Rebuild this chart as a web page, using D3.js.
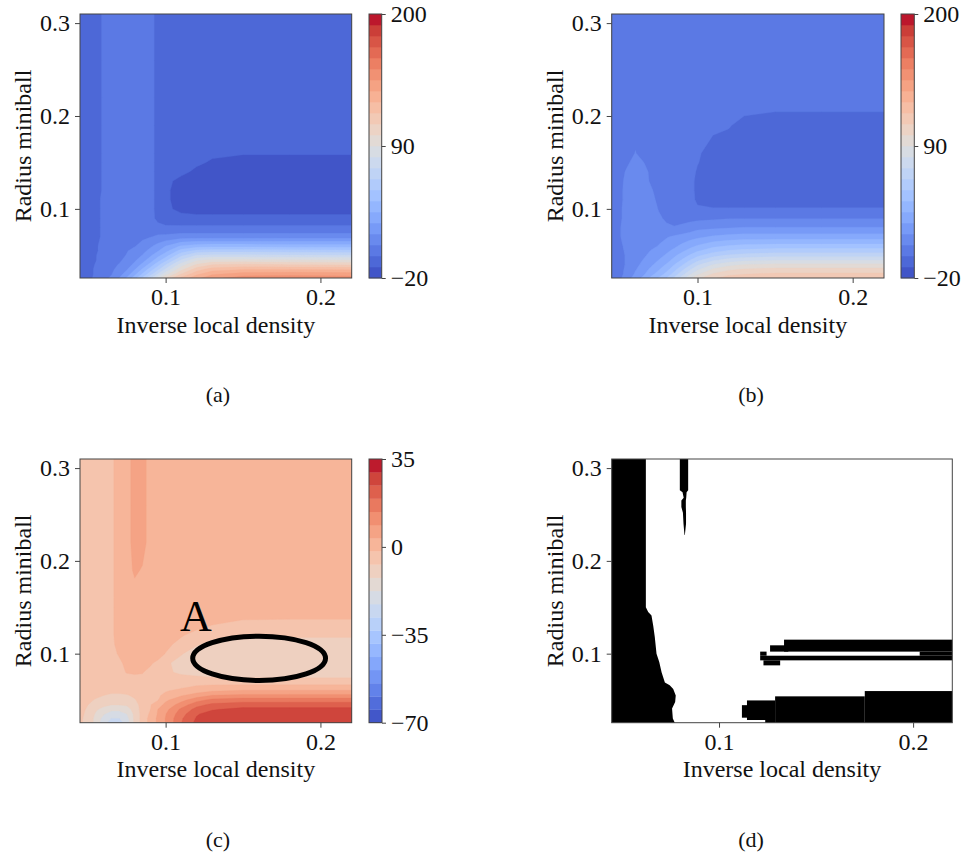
<!DOCTYPE html>
<html>
<head>
<meta charset="utf-8">
<script src="https://cdn.jsdelivr.net/npm/d3@7"></script>
<style>
body { margin: 0; background: #fff; }
svg, svg text { font-family: "Liberation Serif", "DejaVu Serif", serif !important; }
</style>
</head>
<body>
<div id="main"></div>
<script>
// ---- data ----
var xGrid = [0.0447, 0.05, 0.055, 0.06, 0.065, 0.07, 0.075, 0.08, 0.085, 0.09, 0.095, 0.10, 0.11, 0.12, 0.13, 0.15, 0.18, 0.2202];
var yGrid = [0.3098, 0.26, 0.22, 0.19, 0.16, 0.15, 0.14, 0.13, 0.12, 0.11, 0.10, 0.09, 0.08, 0.07, 0.06, 0.055, 0.05, 0.045, 0.04, 0.035, 0.03, 0.0256];
var xDomain = [0.0447, 0.2202];
var yDomain = [0.0256, 0.3098];
var xTicks = [0.1, 0.2];
var yTicks = [0.1, 0.2, 0.3];

// (a) rows from top (y = 0.31) to bottom (y = 0.026)
var fieldA = [
  [-6,-6,-6,0,3,3,3,3,3,3,-6,-6,-6,-6,-6,-6,-6,-6],
  [-6,-6,-6,0,3,3,3,3,3,3,-6,-6,-6,-6,-6,-6,-6,-6],
  [-6,-6,-6,0,3,3,3,3,3,3,-6,-6,-6,-6,-6,-6,-6,-6],
  [-6,-6,-6,0,3,3,3,3,3,3,-6,-6,-6,-6,-6,-6,-6,-6],
  [-6,-6,-6,0,3,3,3,3,3,3,-6,-6,-6,-7,-9,-10,-10,-10],
  [-6,-6,-6,0,3,3,3,3,3,3,-6,-6,-6,-9,-12,-15,-15,-15],
  [-6,-6,-6,0,3,3,3,3,3,3,-6,-6,-8,-13,-15,-15,-15,-15],
  [-6,-6,-6,0,3,3,3,3,3,3,-6,-8,-14,-15,-15,-15,-15,-15],
  [-6,-6,-6,0,3,3,3,3,3,3,-6,-9,-15,-15,-15,-15,-15,-15],
  [-6,-6,-5,1,3,3,3,3,3,3,-6,-9,-15,-15,-15,-15,-15,-15],
  [-6,-6,-5,1,3,3,3,3,3,3,-6,-9,-13,-15,-15,-15,-15,-15],
  [-6,-6,-5,1,3,3,3,3,3,3,-5,-7,-8,-8,-8,-8,-8,-8],
  [-6,-6,-5,1,3,3,3,3,3,3,2,0,0,0,0,0,0,0],
  [-6,-6,-5,1,3,3,4,5,6,7,9,10,12,12,12,12,12,12],
  [-6,-5,-3,2,3,4,6,7,10,15,20,26,36,40,41,41,40,40],
  [-6,-5,-3,2,3,5,7,10,14,19,25,32,48,56,58,58,57,56],
  [-6,-5,-2,2,4,5,8,12,17,24,32,40,60,72,74,74,73,72],
  [-6,-5,-2,3,4,6,10,15,22,30,40,50,72,88,92,92,91,90],
  [-6,-5,-1,3,5,8,12,19,28,38,50,62,85,100,108,110,108,107],
  [-6,-5,0,3,6,10,16,25,36,48,60,73,96,113,122,126,126,125],
  [-6,-5,0,4,7,13,21,32,45,58,72,86,108,124,134,140,141,140],
  [-6,-5,1,5,9,17,27,40,55,70,86,100,120,133,142,150,151,150]
];

// (b)
var fieldB = [
  [3,3,3,3,3,3,3,3,3,3,3,3,3,3,3,3,3,3],
  [3,3,3,3,3,3,3,3,3,3,3,3,3,3,3,3,3,3],
  [3,3,3,3,3,3,3,3,3,3,3,3,3,3,3,3,3,3],
  [3,3,3,3,3,3,3,3,3,3,3,3,3,-1,-4,-6,-6,-6],
  [3,3,3,8,3,3,3,3,3,3,3,1,-10,-6,-6,-6,-6,-6],
  [3,3,6,12,8,3,3,3,3,3,3,-1,-8,-6,-6,-6,-6,-6],
  [3,3,10,12,12,5,3,3,3,3,3,-3,-6,-6,-6,-6,-6,-6],
  [3,4,12,12,12,6,3,3,3,3,3,-5,-6,-6,-6,-6,-6,-6],
  [3,5,12,12,12,9,3,3,3,3,3,-5,-6,-6,-6,-6,-6,-6],
  [3,5,12,12,12,12,4,3,3,3,3,-4,-6,-6,-6,-6,-6,-6],
  [3,6,12,12,12,12,7,3,3,3,3,0,-1,-1,-1,-1,-1,-1],
  [3,6,12,12,12,12,9,6,5,5,5,5,6,7,7,7,7,7],
  [3,7,12,12,12,12,12,9,8,9,11,14,15,16,17,17,17,17],
  [3,7,12,13,13,14,15,16,18,20,22,24,27,29,30,30,30,30],
  [3,6,10,12,13,15,17,20,24,28,32,36,42,45,47,48,48,48],
  [2,6,9,12,14,17,20,24,28,33,38,43,50,54,56,58,58,58],
  [2,5,9,12,15,19,23,27,33,39,45,51,59,64,66,68,68,68],
  [2,5,9,13,17,21,26,31,38,45,53,60,70,75,78,80,80,80],
  [1,5,9,14,19,24,30,36,44,52,61,70,81,87,90,92,92,92],
  [1,5,10,16,21,28,34,41,50,60,70,79,91,97,100,102,102,102],
  [0,5,11,18,24,32,39,47,57,68,79,88,100,106,108,110,110,110],
  [0,6,13,21,28,37,45,53,64,76,88,97,107,112,114,115,115,115]
];

// (c)
var fieldC = [
  [-4,-4,-4,-4,-3,1,1,6,6,1,1,1,1,1,1,1,1,1],
  [-4,-4,-4,-4,-3,1,1,6,6,1,1,1,1,1,1,1,1,1],
  [-4,-4,-4,-4,-3,1,1,6,6,1,1,1,1,1,1,1,1,1],
  [-4,-4,-4,-4,-3,1,1,4.5,3,1,1,1,1,1,1,1,1,1],
  [-4,-4,-4,-4,-3,1,1,1,1,1,1,1,1,1,1,1,1,1],
  [-4,-4,-4,-4,-3,1,1,1,1,1,1,1,1,1,1,1,1,1],
  [-4,-4,-4,-4,-3,1,1,1,1,1,1,1,1,1,1,0,0,0],
  [-4,-4,-4,-4,-3,1,1,1,1,1,1,1,1,0,-2,-5,-6,-6],
  [-4,-4,-4,-4,-3,1,1,1,1,1,1,1,-1,-4,-5,-6,-6,-6],
  [-4,-4,-4,-4,-3,0,1,1,1,1,1,0,-4,-6.5,-9,-10,-10,-10],
  [-4,-4,-4,-4,-4,-1,1,1,1,1,1,-2,-6.5,-10,-10,-10,-10,-10],
  [-4,-4,-4,-4,-4,-3,0,1,1,-1,-3,-6,-9,-10,-10,-10,-10,-10],
  [-4,-4,-4,-4,-4,-3,-1.5,-1,-1.5,-3,-4,-6,-8,-9,-10,-10,-10,-10],
  [-4,-4,-4,-4,-4,-4,-4,-4,-3,-3,-2.5,-3,-4,-4,-4.5,-5,-5,-5],
  [-4,-4,-4.5,-5,-5.5,-5.5,-5,-4.5,-3.5,-3,-2.5,-2,-1,1,3,4,4,4],
  [-4,-5,-6,-7,-8,-8,-7.5,-6,-4,-3,-2.2,-1,3,6,9,10,10,10],
  [-4.5,-6,-7.5,-9,-10,-10,-9.5,-7.5,-4.5,-2.5,-2,2.5,7,12,15.5,17,17,17],
  [-5,-7,-9.5,-11,-12,-12,-11.5,-9,-5,-2.2,1,5,11,17.5,20.5,22,22,22],
  [-5,-8,-11.5,-14,-16,-16,-14.5,-10,-5,-2,3.5,7,15,21,24,26,26,26],
  [-5.5,-8.5,-13,-17,-20,-20,-17.5,-11,-5,-1,4,8.5,17,24,26.5,28,28,28],
  [-6,-9,-14,-19.5,-23,-23,-19.5,-11,-5,0,4.5,9,18.5,25,27.5,28,28,28],
  [-6,-9,-14,-21,-25,-25,-20.5,-11,-5,0,4.5,9,19,26,28,28,28,28]
];

// colour levels of the filled contours
var levelsAB = d3.range(25).map(function(i) { return -20 + i * 220 / 24; });
var levelsC = d3.range(21).map(function(i) { return -70 + i * 105 / 20; });
var cbTicksAB = [-20, 90, 200];
var cbTicksC = [-70, -35, 0, 35];

// region "A" marked in (c)
var ellipseA = { cx: 0.1604, cy: 0.095, rx: 0.0429, ry: 0.0239 };
var labelA = { x: 0.1196, y: 0.124, text: "A" };

// (d) black mask: left region edge, thin strip, blocks
var dLeftY = [0.3098, 0.150, 0.145, 0.141, 0.130, 0.118, 0.100, 0.091, 0.080, 0.069, 0.066, 0.062, 0.055, 0.048, 0.041, 0.030, 0.0256];
var dLeftX = [0.0623, 0.0623, 0.0635, 0.0652, 0.0661, 0.0669, 0.0678, 0.0692, 0.0704, 0.0721, 0.0746, 0.0764, 0.0777, 0.0774, 0.0758, 0.0762, 0.0772];
var dStripY = [0.3098, 0.276, 0.274, 0.268, 0.265, 0.258, 0.252, 0.24, 0.228];
var dStripX0 = [0.0798, 0.0798, 0.0812, 0.0818, 0.0806, 0.0806, 0.0814, 0.0817, 0.0822];
var dStripX1 = [0.0841, 0.0841, 0.0833, 0.0831, 0.0829, 0.0829, 0.0830, 0.0830, 0.0824];
var dBlockX0 = [0.1335, 0.1263, 0.1212, 0.1229, 0.2034, 0.1212, 0.1751, 0.1289, 0.1144, 0.1238, 0.1118];
var dBlockX1 = [0.2202, 0.1357, 0.2202, 0.1315, 0.2202, 0.1245, 0.2202, 0.1751, 0.1289, 0.1289, 0.1150];
var dBlockY0 = [0.1022, 0.1022, 0.0928, 0.0874, 0.0978, 0.0978, 0.0256, 0.0256, 0.0285, 0.0256, 0.0310];
var dBlockY1 = [0.1151, 0.1090, 0.0978, 0.0928, 0.1022, 0.1022, 0.0597, 0.0540, 0.0496, 0.0285, 0.0445];

// ---- layout ----
var panelA = { x0: 80, x1: 351.7, y0: 14, y1: 278, cb: 369, cbw: 12.7, ylab: 31, xlab: 333, cap: "(a)", capX: 218, capY: 402 };
var panelB = { x0: 611.7, x1: 884, y0: 14, y1: 278, cb: 901, cbw: 13.3, ylab: 563, xlab: 333, cap: "(b)", capX: 751, capY: 402 };
var panelC = { x0: 80, x1: 351.7, y0: 459, y1: 722.7, cb: 369, cbw: 13, ylab: 31, xlab: 777, cap: "(c)", capX: 218, capY: 847 };
var panelD = { x0: 611.7, x1: 952.3, y0: 459, y1: 722.7, ylab: 563, xlab: 777, cap: "(d)", capX: 751, capY: 847 };
var serif = "Liberation Serif, DejaVu Serif, serif";

var svg = d3.select("#main").append("svg")
    .attr("width", 966)
    .attr("height", 855)
    .attr("font-family", serif);

var defs = svg.append("defs");
defs.append("filter").attr("id", "soft")
    .append("feGaussianBlur").attr("stdDeviation", 0.7);

// matplotlib coolwarm
var cwStops = ["rgb(59,76,192)", "rgb(77,104,215)", "rgb(98,130,234)", "rgb(119,154,247)",
  "rgb(141,176,254)", "rgb(163,194,255)", "rgb(184,208,249)", "rgb(204,217,238)",
  "rgb(221,221,221)", "rgb(236,211,197)", "rgb(245,196,173)", "rgb(247,177,148)",
  "rgb(244,154,123)", "rgb(236,127,99)", "rgb(222,96,77)", "rgb(203,62,56)", "rgb(180,4,38)"];
var coolwarm = d3.scaleLinear()
    .domain(d3.range(17).map(function(i) { return i / 16; }))
    .range(cwStops)
    .interpolate(d3.interpolateRgb)
    .clamp(true);

function minusFmt(d) { return d < 0 ? "\u2212" + Math.abs(d) : String(d); }

function styleAxis(g) {
  g.select(".domain").remove();
  g.attr("font-family", serif).attr("font-size", 24);
  g.selectAll("line").attr("stroke", "#444");
  g.selectAll("text").attr("fill", "#111").attr("font-family", serif);
}

function frameAndAxes(p, sx, sy) {
  svg.append("rect")
      .attr("x", p.x0).attr("y", p.y0)
      .attr("width", p.x1 - p.x0).attr("height", p.y1 - p.y0)
      .attr("fill", "none").attr("stroke", "#444").attr("stroke-width", 1);

  var gx = svg.append("g").attr("transform", "translate(0," + p.y1 + ")")
      .call(d3.axisBottom(sx).tickValues(xTicks).tickFormat(d3.format(".1f")).tickSize(5).tickPadding(5));
  var gy = svg.append("g").attr("transform", "translate(" + p.x0 + ",0)")
      .call(d3.axisLeft(sy).tickValues(yTicks).tickFormat(d3.format(".1f")).tickSize(5).tickPadding(5));
  styleAxis(gx);
  styleAxis(gy);

  svg.append("text")
      .attr("x", (p.x0 + p.x1) / 2).attr("y", p.xlab)
      .attr("text-anchor", "middle").attr("font-size", 24).attr("fill", "#111")
      .attr("font-family", serif)
      .text("Inverse local density");
  svg.append("text")
      .attr("transform", "translate(" + p.ylab + "," + (p.y0 + p.y1) / 2 + ") rotate(-90)")
      .attr("text-anchor", "middle").attr("font-size", 24).attr("fill", "#111")
      .attr("font-family", serif)
      .text("Radius miniball");
  svg.append("text")
      .attr("x", p.capX).attr("y", p.capY)
      .attr("text-anchor", "middle").attr("font-size", 22).attr("fill", "#111")
      .attr("font-family", serif)
      .text(p.cap);
}

function contourPanel(p, field, levels, cbTicks, id) {
  var nx = xGrid.length, ny = yGrid.length;
  var flat = [].concat.apply([], field);
  var sx = d3.scaleLinear().domain(xDomain).range([p.x0, p.x1]);
  var sy = d3.scaleLinear().domain(yDomain).range([p.y1, p.y0]);
  var ix = d3.scaleLinear().domain(d3.range(nx)).range(xGrid);
  var iy = d3.scaleLinear().domain(d3.range(ny)).range(yGrid);
  var proj = d3.geoTransform({
    point: function(x, y) {
      var u = Math.max(0, Math.min(nx - 1, x - 0.5));
      var v = Math.max(0, Math.min(ny - 1, y - 0.5));
      this.stream.point(sx(ix(u)), sy(iy(v)));
    }
  });
  var path = d3.geoPath(proj);
  var nb = levels.length - 1;
  var bandColor = function(k) { return coolwarm((k + 0.5) / nb); };

  defs.append("clipPath").attr("id", "clip" + id)
    .append("rect").attr("x", p.x0).attr("y", p.y0)
      .attr("width", p.x1 - p.x0).attr("height", p.y1 - p.y0);

  var g = svg.append("g").attr("clip-path", "url(#clip" + id + ")");
  g.append("rect")
      .attr("x", p.x0).attr("y", p.y0)
      .attr("width", p.x1 - p.x0).attr("height", p.y1 - p.y0)
      .attr("fill", bandColor(0));

  var gen = d3.contours().size([nx, ny]).thresholds(levels.slice(1, nb));
  gen(flat).forEach(function(c, i) {
    g.append("path")
        .attr("d", path(c))
        .attr("fill", bandColor(i + 1))
        .attr("fill-rule", "evenodd")
        .attr("stroke", bandColor(i + 1))
        .attr("stroke-width", 0.3);
  });

  // colorbar
  var cy = d3.scaleLinear().domain([levels[0], levels[nb]]).range([p.y1, p.y0]);
  svg.append("g").selectAll("rect")
    .data(d3.range(nb))
    .join("rect")
      .attr("x", p.cb)
      .attr("y", function(k) { return cy(levels[k + 1]); })
      .attr("width", p.cbw)
      .attr("height", function(k) { return cy(levels[k]) - cy(levels[k + 1]) + 0.3; })
      .attr("fill", bandColor);
  svg.append("rect")
      .attr("x", p.cb).attr("y", p.y0)
      .attr("width", p.cbw).attr("height", p.y1 - p.y0)
      .attr("fill", "none").attr("stroke", "#444").attr("stroke-width", 1);
  var gc = svg.append("g").attr("transform", "translate(" + (p.cb + p.cbw) + ",0)")
      .call(d3.axisRight(cy).tickValues(cbTicks).tickFormat(minusFmt).tickSize(4).tickPadding(5));
  styleAxis(gc);

  frameAndAxes(p, sx, sy);
  return { sx: sx, sy: sy };
}

contourPanel(panelA, fieldA, levelsAB, cbTicksAB, "A");
contourPanel(panelB, fieldB, levelsAB, cbTicksAB, "B");
var sc = contourPanel(panelC, fieldC, levelsC, cbTicksC, "C");

// ellipse and label in (c)
svg.append("ellipse")
    .attr("cx", sc.sx(ellipseA.cx)).attr("cy", sc.sy(ellipseA.cy))
    .attr("rx", sc.sx(ellipseA.cx + ellipseA.rx) - sc.sx(ellipseA.cx))
    .attr("ry", sc.sy(ellipseA.cy) - sc.sy(ellipseA.cy + ellipseA.ry))
    .attr("fill", "none").attr("stroke", "#000").attr("stroke-width", 5);
svg.append("text")
    .attr("x", sc.sx(labelA.x)).attr("y", sc.sy(labelA.y))
    .attr("text-anchor", "middle").attr("font-size", 44).attr("fill", "#000")
    .attr("font-family", serif)
    .text(labelA.text);

// (d) binary map
(function() {
  var p = panelD;
  var sx = d3.scaleLinear().domain(xDomain).range([p.x0, p.x1]);
  var sy = d3.scaleLinear().domain(yDomain).range([p.y1, p.y0]);
  defs.append("clipPath").attr("id", "clipD")
    .append("rect").attr("x", p.x0).attr("y", p.y0)
      .attr("width", p.x1 - p.x0).attr("height", p.y1 - p.y0);
  var outer = svg.append("g").attr("clip-path", "url(#clipD)");
  outer.append("rect")
      .attr("x", p.x0).attr("y", p.y0)
      .attr("width", p.x1 - p.x0).attr("height", p.y1 - p.y0)
      .attr("fill", "#fff");
  var g = outer.append("g").attr("filter", "url(#soft)");
  var line = d3.line().x(function(d) { return sx(d[0]); }).y(function(d) { return sy(d[1]); });

  var n = dLeftY.length;
  var left = [[xDomain[0] - 0.01, dLeftY[0] + 0.01], [dLeftX[0], dLeftY[0] + 0.01]]
    .concat(dLeftY.map(function(y, i) { return [dLeftX[i], y]; }))
    .concat([[dLeftX[n - 1], dLeftY[n - 1] - 0.01], [xDomain[0] - 0.01, dLeftY[n - 1] - 0.01]]);
  g.append("path").attr("d", line(left) + "Z").attr("fill", "#000");

  var strip = dStripY.map(function(y, i) { return [dStripX0[i], i === 0 ? y + 0.01 : y]; })
    .concat(dStripY.map(function(y, i) { return [dStripX1[i], i === 0 ? y + 0.01 : y]; }).reverse());
  g.append("path").attr("d", line(strip) + "Z").attr("fill", "#000");

  g.selectAll("rect.blk")
    .data(d3.range(dBlockX0.length))
    .join("rect")
      .attr("class", "blk")
      .attr("x", function(i) { return sx(dBlockX0[i]); })
      .attr("y", function(i) { return sy(dBlockY1[i]); })
      .attr("width", function(i) { return sx(dBlockX1[i]) - sx(dBlockX0[i]) + (dBlockX1[i] >= xDomain[1] ? 6 : 0); })
      .attr("height", function(i) { return sy(dBlockY0[i]) - sy(dBlockY1[i]) + (dBlockY0[i] <= yDomain[0] ? 6 : 0); })
      .attr("fill", "#000");

  frameAndAxes(p, sx, sy);
})();
</script>
</body>
</html>
